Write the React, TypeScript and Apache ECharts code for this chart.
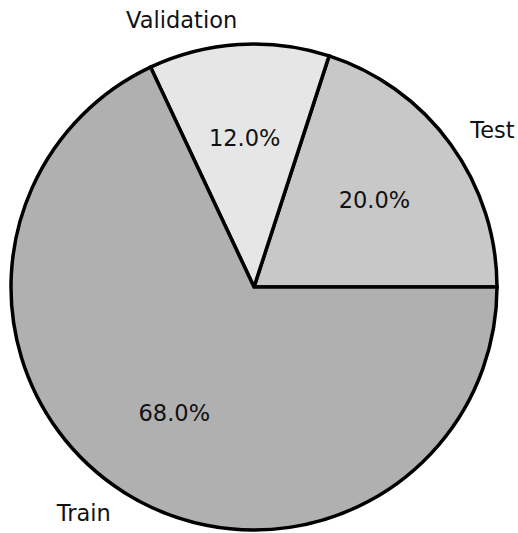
import React, { useEffect, useRef } from "react";
import * as echarts from "echarts";

const categories = ["Test", "Validation", "Train"];
const values = [20, 12, 68];
const colors = ["#c8c8c8", "#e6e6e6", "#b0b0b0"];

const CX = 254;
const CY = 287;
const R = 243;
const FONT = 22.5;

export default function App() {
  const ref = useRef<HTMLDivElement>(null);
  useEffect(() => {
    if (!ref.current) return;
    const chart = echarts.init(ref.current, undefined, { renderer: "svg" });
    const data = categories.map((name, i) => ({
      name,
      value: values[i],
      itemStyle: { color: colors[i] },
    }));
    chart.setOption({
      animation: false,
      backgroundColor: "#ffffff",
      series: [
        {
          type: "pie",
          center: [CX, CY],
          radius: [0, R],
          startAngle: 0,
          clockwise: false,
          avoidLabelOverlap: false,
          silent: true,
          itemStyle: { borderColor: "#000000", borderWidth: 3.5, borderJoin: "miter" },
          label: {
            show: true,
            position: "outside",
            formatter: "{b}",
            fontFamily: "DejaVu Sans",
            fontSize: FONT,
            color: "#111111",
            distanceToLabelLine: 0,
          },
          labelLine: { show: false, length: R * 0.1, length2: 0 },
          data,
        },
        {
          type: "pie",
          center: [CX, CY],
          radius: [R * 0.2, R],
          startAngle: 0,
          clockwise: false,
          avoidLabelOverlap: false,
          silent: true,
          itemStyle: { color: "transparent", borderWidth: 0 },
          label: {
            show: true,
            position: "inside",
            formatter: (p: any) => `${Number(p.value).toFixed(1)}%`,
            fontFamily: "DejaVu Sans",
            fontSize: FONT,
            color: "#111111",
          },
          labelLine: { show: false },
          data: categories.map((name, i) => ({ name, value: values[i], itemStyle: { color: "transparent" } })),
        },
      ],
    });
    return () => chart.dispose();
  }, []);
  return (
    <div
      ref={ref}
      style={{ position: "fixed", left: 0, top: 0, width: 518, height: 533 }}
    />
  );
}
